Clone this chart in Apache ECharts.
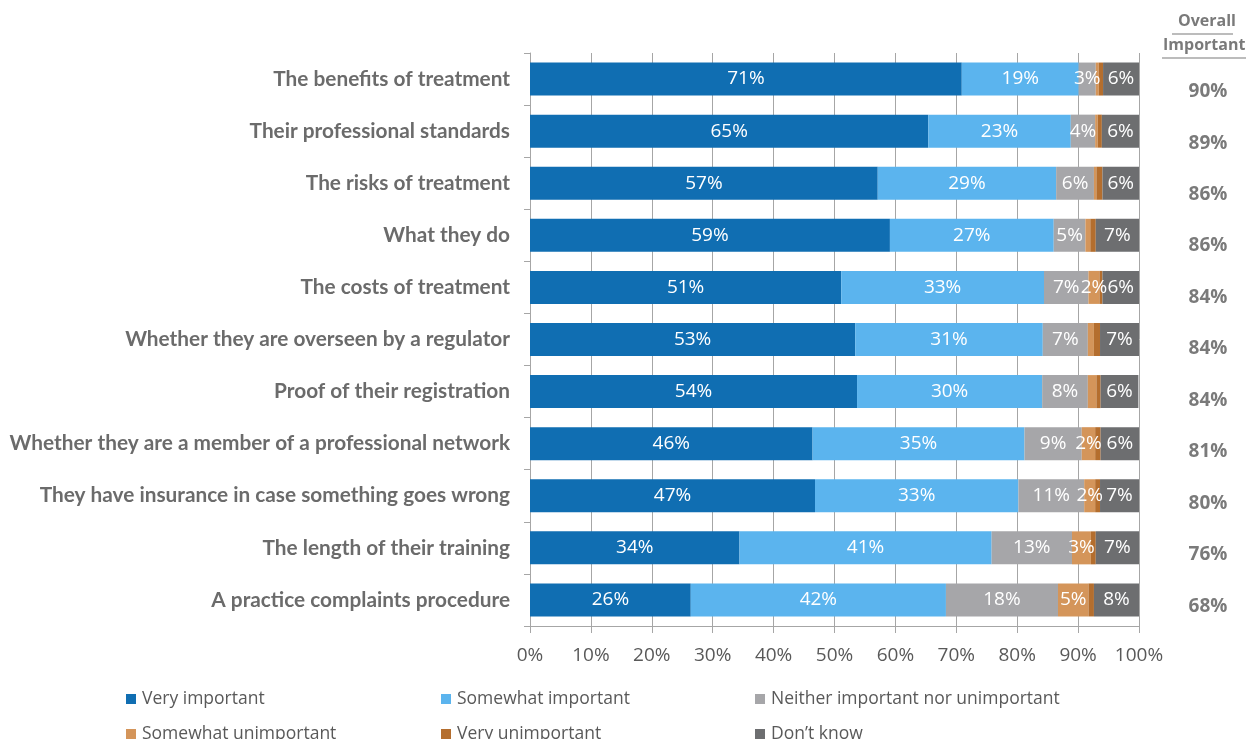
<!DOCTYPE html>
<html>
<head>
<meta charset="utf-8">
<script src="https://cdn.jsdelivr.net/npm/echarts@6/dist/echarts.min.js"></script>
<style>html,body{margin:0;padding:0;background:#fff;}#c{width:1248px;height:739px;}</style>
</head>
<body>
<div id="c"></div>
<script>
const categories = [
  'The benefits of treatment',
  'Their professional standards',
  'The risks of treatment',
  'What they do',
  'The costs of treatment',
  'Whether they are overseen by a regulator',
  'Proof of their registration',
  'Whether they are a member of a professional network',
  'They have insurance in case something goes wrong',
  'The length of their training',
  'A practice complaints procedure'
];
const seriesNames = ['Very important','Somewhat important','Neither important nor unimportant','Somewhat unimportant','Very unimportant','Don\u2019t know'];
const veryImportant       = [70.9, 65.4, 57.1, 59.1, 51.1, 53.4, 53.7, 46.4, 46.8, 34.4, 26.4];
const somewhatImportant   = [19.2, 23.4, 29.3, 26.9, 33.3, 30.8, 30.4, 34.8, 33.4, 41.4, 41.9];
const neither             = [2.8, 4.0, 6.2, 5.2, 7.3, 7.4, 7.5, 9.4, 10.8, 13.2, 18.4];
const somewhatUnimportant = [0.5, 0.4, 0.4, 0.8, 1.8, 1.0, 1.4, 2.2, 1.8, 3.1, 5.0];
const veryUnimportant     = [0.7, 0.7, 1.0, 0.9, 0.5, 1.0, 0.7, 0.9, 0.8, 0.8, 0.9];
const dontKnow            = [5.9, 6.1, 6.0, 7.2, 6.1, 6.5, 6.2, 6.3, 6.5, 7.1, 7.5];
const overallImportant    = [90, 89, 86, 86, 84, 84, 84, 81, 80, 76, 68];
const xTicks = [0,10,20,30,40,50,60,70,80,90,100];

const colors = ['#106EB2','#5BB4EE','#A6A6A9','#D4955A','#B46E2E','#6D6E70'];
const values = [veryImportant, somewhatImportant, neither, somewhatUnimportant, veryUnimportant, dontKnow];

const chart = echarts.init(document.getElementById('c'), null, {renderer:'canvas'});

const series = values.map((arr, i) => ({
  name: seriesNames[i],
  type: 'bar',
  stack: 'total',
  barWidth: 33,
  xAxisIndex: 0, yAxisIndex: 0,
  itemStyle: {color: colors[i]},
  label: {
    show: true,
    position: 'inside',
    color: '#fff',
    fontFamily: 'Open Sans',
    fontSize: 19,
    formatter: p => p.value >= 1.5 ? Math.round(p.value) + '%' : ''
  },
  data: arr
}));

const legendPos = [
  {left: 126, top: 690}, {left: 441, top: 690}, {left: 755, top: 690},
  {left: 126, top: 725}, {left: 441, top: 725}, {left: 755, top: 725}
];
const legends = seriesNames.map((n, i) => ({
  data: [n],
  left: legendPos[i].left,
  top: legendPos[i].top,
  padding: 0,
  itemWidth: 10, itemHeight: 10, itemGap: 0,
  icon: 'rect',
  selectedMode: false,
  textStyle: {color: '#595959', fontSize: 17.5, fontFamily: 'Open Sans', padding: [0,0,0,1]}
}));

chart.setOption({
  animation: false,
  color: colors,
  legend: legends,
  grid: [
    {left: 530, right: 109, top: 53, bottom: 113, containLabel: false},
    {left: 1208, width: 1, top: 66, height: 566}
  ],
  xAxis: [
    {
      type: 'value', gridIndex: 0, min: 0, max: 100, interval: 10,
      axisLine: {show: true, lineStyle: {color: '#a6a6a6', width: 1}},
      axisTick: {show: true, length: 7, lineStyle: {color: '#a6a6a6'}},
      splitLine: {show: true, lineStyle: {color: '#a6a6a6', width: 1}},
      axisLabel: {
        margin: 20, color: '#595959', fontSize: 19, fontFamily: 'Open Sans',
        formatter: v => xTicks.includes(v) ? v + '%' : ''
      }
    },
    {type: 'value', gridIndex: 1, show: false}
  ],
  yAxis: [
    {
      type: 'category', gridIndex: 0, data: categories, inverse: true,
      axisLine: {show: true, lineStyle: {color: '#a6a6a6', width: 1}},
      axisTick: {show: true, length: 6, lineStyle: {color: '#a6a6a6'}},
      axisLabel: {margin: 20, color: '#6b6b6b', fontSize: 20.8, fontWeight: 'bold', fontFamily: 'Lato'}
    },
    {
      type: 'category', gridIndex: 1, data: overallImportant.map(v => v + '%'), inverse: true,
      axisLine: {show: false}, axisTick: {show: false},
      axisLabel: {margin: 0, align: 'center', color: '#7a7a7a', fontSize: 19, fontWeight: 'bold', fontFamily: 'Open Sans'}
    }
  ],
  series: series,
  graphic: [
    {type: 'text', left: 1178, top: 13, style: {text: 'Overall', fill: '#7a7a7a', font: 'bold 16px "Open Sans"', textAlign: 'left'}},
    {type: 'text', left: 1163, top: 37, style: {text: 'Important', fill: '#7a7a7a', font: 'bold 16px "Open Sans"', textAlign: 'left'}},
    {type: 'line', shape: {x1: 1172, y1: 34, x2: 1233, y2: 34}, style: {stroke: '#7a7a7a', lineWidth: 1.2}},
    {type: 'line', shape: {x1: 1162, y1: 58, x2: 1246, y2: 58}, style: {stroke: '#7a7a7a', lineWidth: 1.2}}
  ]
});
</script>
</body>
</html>
